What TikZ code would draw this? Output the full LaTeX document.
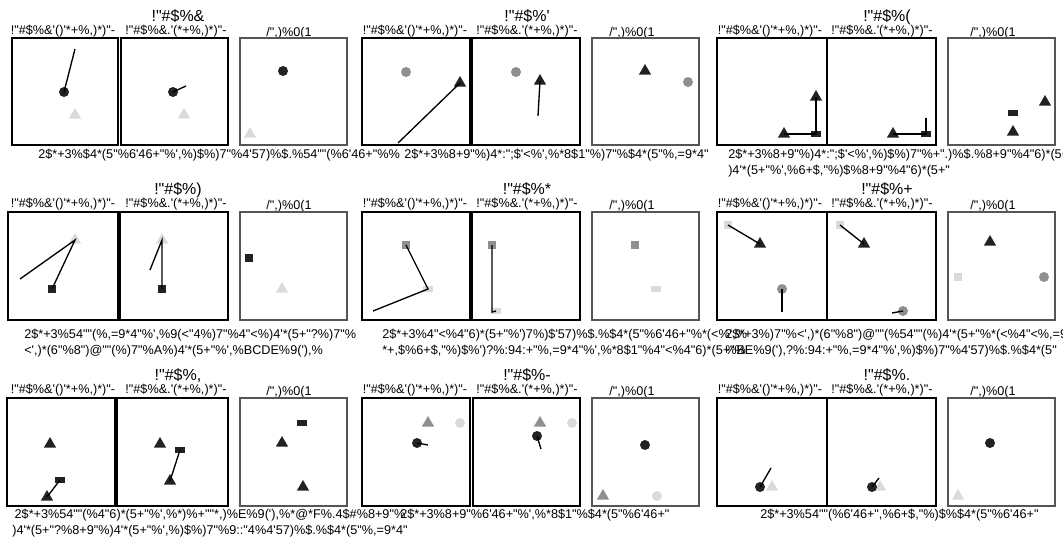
\documentclass[tikz,border=0pt]{standalone}
\usepackage{fontspec}
\newfontfamily\figfont{Liberation Sans}
\usetikzlibrary{shapes.geometric}

\definecolor{markdark}{HTML}{222222}
\definecolor{markmid}{HTML}{8F8F8F}
\definecolor{marklight}{HTML}{DADADA}
\definecolor{framegray}{HTML}{555555}

\newcommand{\subA}{!"\#\$\%\&'()'*+\%,)*)"-}
\newcommand{\subB}{!"\#\$\%\&.'(*+\%,)*)"-}
\newcommand{\subC}{/",)\%0(1}

\begin{document}
\begin{tikzpicture}[x=0.75pt, y=-0.75pt,
  title/.style={font=\figfont\fontsize{12}{14}\selectfont, anchor=base, inner sep=0pt},
  sub/.style={font=\figfont\fontsize{9.5}{11}\selectfont, anchor=base, inner sep=0pt},
  caption/.style={font=\figfont\fontsize{9.5}{12}\selectfont, anchor=base west, inner sep=0pt, align=left},
  frame/.style={draw=black, line width=0.8pt},
  frameC/.style={draw=framegray, line width=0.8pt},
  dot/.style={circle, inner sep=0pt, minimum size=7.5pt},
  tri/.style={regular polygon, regular polygon sides=3, inner sep=0pt, minimum size=10.5pt},
  sq/.style={rectangle, inner sep=0pt, minimum size=6.5pt},
  bar/.style={rectangle, inner sep=0pt, minimum width=7.5pt, minimum height=3.8pt},
  link/.style={line width=1pt, black}
]
  \useasboundingbox (0,0) rectangle (1063,543);

  % ---------------- row 1 ----------------
  \node[title] (t11) at (178,21) {!"\#\$\%\&};
  \node[title] (t12) at (527,21) {!"\#\$\%'};
  \node[title] (t13) at (887,21) {!"\#\$\%(};

  \node[sub] (s11a) at (63,34) {\subA};
  \node[sub] (s11b) at (176,34) {\subB};
  \node[sub] (s11c) at (289,36) {\subC};
  \node[sub] (s12a) at (415,34) {\subA};
  \node[sub] (s12b) at (527,34) {\subB};
  \node[sub] (s12c) at (632,36) {\subC};
  \node[sub] (s13a) at (770,34) {\subA};
  \node[sub] (s13b) at (882,34) {\subB};
  \node[sub] (s13c) at (993,36) {\subC};

  \draw[frame] (12,38) rectangle (118,145);
  \draw[frame] (121,38) rectangle (228,145);
  \draw[frameC] (240,38) rectangle (347,145);
  \draw[frame] (362,38) rectangle (470,145);
  \draw[frame] (472,38) rectangle (580,145);
  \draw[frameC] (592,38) rectangle (699,145);
  \draw[frame] (717,38) rectangle (827,145);
  \draw[frame] (827,38) rectangle (936,145);
  \draw[frameC] (948,38) rectangle (1055,145);

  \node[dot, fill=markdark] (a1) at (64,92) {};
  \coordinate (a1e) at (75,49);
  \node[tri, fill=marklight] (a2) at (75,115) {};
  \draw[link] (a1.center) -- (a1e);
  \node[dot, fill=markdark] (b1) at (173,92) {};
  \coordinate (b1e) at (186,86);
  \node[tri, fill=marklight] (b2) at (184,115) {};
  \draw[link] (b1.center) -- (b1e);
  \node[dot, fill=markdark] (c1) at (283,71) {};
  \node[tri, fill=marklight] (c2) at (250,134) {};

  \node[dot, fill=markmid] (d1) at (406,72) {};
  \node[tri, fill=markdark] (d2) at (460,83) {};
  \coordinate (d2e) at (398,143);
  \draw[link] (d2.center) -- (d2e);
  \node[dot, fill=markmid] (e1) at (516,72) {};
  \node[tri, fill=markdark] (e2) at (540,81) {};
  \coordinate (e2e) at (538,116);
  \draw[link] (e2.center) -- (e2e);
  \node[tri, fill=markdark] (f1) at (645,71) {};
  \node[dot, fill=markmid] (f2) at (688,82) {};

  \node[tri, fill=markdark] (g1) at (784,134) {};
  \node[bar, fill=markdark] (g2) at (816,134) {};
  \node[tri, fill=markdark] (g3) at (816,97) {};
  \draw[link] (g1.center) -- (g2.center) -- (g3.center);
  \node[tri, fill=markdark] (h1) at (893,134) {};
  \node[bar, fill=markdark] (h2) at (926,134) {};
  \coordinate (h2e) at (926,118);
  \draw[link] (h1.center) -- (h2.center) -- (h2e);
  \node[bar, fill=markdark] (i1) at (1013,113) {};
  \node[tri, fill=markdark] (i2) at (1013,132) {};
  \node[tri, fill=markdark] (i3) at (1045,102) {};

  \node[caption] (k11) at (38,158)
    {2\$*+3\%\$4*(5"\%6'46+"\%',\%)\$\%)7"\%4'57)\%\$.\%54""(\%6'46+"\%\%};
  \node[caption] (k12) at (404,158)
    {2\$*+3\%8+9"\%)4*:";\$'<\%',\%*8\$1"\%)7"\%\$4*(5"\%,=9*4"};
  \node[caption] (k13) at (728,174)
    {2\$*+3\%8+9"\%)4*:";\$'<\%',\%)\$\%)7"\%+".)\%\$.\%8+9"\%4"6)*(5+\\
     )4'*(5+"\%',\%6+\$,"\%)\$\%8+9"\%4"6)*(5+"};

  % ---------------- row 2 ----------------
  \node[title] (t21) at (178,194) {!"\#\$\%)};
  \node[title] (t22) at (527,194) {!"\#\$\%*};
  \node[title] (t23) at (887,194) {!"\#\$\%+};

  \node[sub] (s21a) at (63,207) {\subA};
  \node[sub] (s21b) at (176,207) {\subB};
  \node[sub] (s21c) at (289,209) {\subC};
  \node[sub] (s22a) at (415,207) {\subA};
  \node[sub] (s22b) at (527,207) {\subB};
  \node[sub] (s22c) at (632,209) {\subC};
  \node[sub] (s23a) at (770,207) {\subA};
  \node[sub] (s23b) at (882,207) {\subB};
  \node[sub] (s23c) at (993,209) {\subC};

  \draw[frame] (8,212) rectangle (118,320);
  \draw[frame] (120,212) rectangle (228,320);
  \draw[frameC] (240,212) rectangle (347,320);
  \draw[frame] (362,212) rectangle (470,320);
  \draw[frame] (472,212) rectangle (580,320);
  \draw[frameC] (592,212) rectangle (699,320);
  \draw[frame] (717,212) rectangle (827,320);
  \draw[frame] (827,212) rectangle (936,320);
  \draw[frameC] (948,212) rectangle (1055,320);

  \node[tri, fill=marklight] (m1) at (75,240) {};
  \node[sq, fill=markdark] (m2) at (52,289) {};
  \coordinate (m1e) at (20,279);
  \draw[link] (m2.center) -- (m1.center) -- (m1e);
  \node[tri, fill=marklight] (n1) at (162,240) {};
  \node[sq, fill=markdark] (n2) at (162,289) {};
  \coordinate (n1e) at (150,270);
  \draw[link] (n2.center) -- (n1.center) -- (n1e);
  \node[sq, fill=markdark] (o1) at (249,258) {};
  \node[tri, fill=marklight] (o2) at (282,289) {};

  \node[sq, fill=markmid] (p1) at (406,245) {};
  \node[bar, fill=marklight] (p2) at (428,289) {};
  \coordinate (p2e) at (373,311);
  \draw[link] (p1.center) -- (p2.center) -- (p2e);
  \node[sq, fill=markmid] (q1) at (492,245) {};
  \node[bar, fill=marklight] (q2) at (496,311) {};
  \coordinate (q1e) at (492,312);
  \draw[link] (q1.center) -- (q1e) -- (q2.center);
  \node[sq, fill=markmid] (r1) at (635,245) {};
  \node[bar, fill=marklight] (r2) at (656,289) {};

  \node[sq, fill=marklight] (u1) at (728,225) {};
  \node[tri, fill=markdark] (u2) at (760,244) {};
  \node[dot, fill=markmid] (u3) at (782,289) {};
  \coordinate (u3e) at (782,312);
  \draw[link] (u1.center) -- (u2.center);
  \draw[link] (u3.center) -- (u3e);
  \node[sq, fill=marklight] (v1) at (840,225) {};
  \node[tri, fill=markdark] (v2) at (864,244) {};
  \node[dot, fill=markmid] (v3) at (903,311) {};
  \coordinate (v3e) at (892,313);
  \draw[link] (v1.center) -- (v2.center);
  \draw[link] (v3.center) -- (v3e);
  \node[tri, fill=markdark] (w1) at (990,242) {};
  \node[sq, fill=marklight] (w2) at (958,277) {};
  \node[dot, fill=markmid] (w3) at (1044,277) {};

  \node[caption] (k21) at (24,354)
    {2\$*+3\%54""(\%,=9*4"\%',\%9(<"4\%)7"\%4"<\%)4'*(5+"?\%)7"\%\\
     <',)*(6"\%8")@""(\%)7"\%A\%)4'*(5+"\%',\%BCDE\%9('),\%};
  \node[caption] (k22) at (382,354)
    {2\$*+3\%4"<\%4"6)*(5+"\%')7\%)\$'57)\%\$.\%\$4*(5"\%6'46+"\%*(<\%',\%\\
     *+,\$\%6+\$,"\%)\$\%')?\%:94:+"\%,=9*4"\%',\%*8\$1"\%4"<\%4"6)*(5+"\%};
  \node[caption] (k23) at (725,354)
    {2\$*+3\%)7"\%<',)*(6"\%8")@""(\%54""(\%)4'*(5+"\%*(<\%4"<\%,=9\\
     \%BE\%9('),?\%:94:+"\%,=9*4"\%',\%)\$\%)7"\%4'57)\%\$.\%\$4*(5"};

  % ---------------- row 3 ----------------
  \node[title] (t31) at (178,380) {!"\#\$\%,};
  \node[title] (t32) at (527,380) {!"\#\$\%-};
  \node[title] (t33) at (887,380) {!"\#\$\%.};

  \node[sub] (s31a) at (63,393) {\subA};
  \node[sub] (s31b) at (176,393) {\subB};
  \node[sub] (s31c) at (289,395) {\subC};
  \node[sub] (s32a) at (415,393) {\subA};
  \node[sub] (s32b) at (527,393) {\subB};
  \node[sub] (s32c) at (632,395) {\subC};
  \node[sub] (s33a) at (770,393) {\subA};
  \node[sub] (s33b) at (882,393) {\subB};
  \node[sub] (s33c) at (993,395) {\subC};

  \draw[frame] (7,398) rectangle (115,506);
  \draw[frame] (117,398) rectangle (228,506);
  \draw[frameC] (240,398) rectangle (347,506);
  \draw[frame] (362,398) rectangle (470,506);
  \draw[frame] (473,398) rectangle (580,506);
  \draw[frameC] (592,398) rectangle (699,506);
  \draw[frame] (717,398) rectangle (827,506);
  \draw[frame] (827,398) rectangle (936,506);
  \draw[frameC] (948,398) rectangle (1055,506);

  \node[tri, fill=markdark] (x1) at (50,444) {};
  \node[tri, fill=markdark] (x2) at (47,497) {};
  \node[bar, fill=markdark] (x3) at (60,480) {};
  \draw[link] (x3.center) -- (x2.center);
  \node[tri, fill=markdark] (y1) at (160,444) {};
  \node[bar, fill=markdark] (y2) at (180,450) {};
  \node[tri, fill=markdark] (y3) at (170,481) {};
  \draw[link] (y2.center) -- (y3.center);
  \node[bar, fill=markdark] (z1) at (302,423) {};
  \node[tri, fill=markdark] (z2) at (282,443) {};
  \node[tri, fill=markdark] (z3) at (303,487) {};

  \node[tri, fill=markmid] (aa1) at (428,423) {};
  \node[dot, fill=marklight] (aa2) at (460,423) {};
  \node[dot, fill=markdark] (aa3) at (417,443) {};
  \coordinate (aa3e) at (428,445);
  \draw[link] (aa3.center) -- (aa3e);
  \node[tri, fill=markmid] (bb1) at (540,423) {};
  \node[dot, fill=marklight] (bb2) at (572,423) {};
  \node[dot, fill=markdark] (bb3) at (537,436) {};
  \coordinate (bb3e) at (541,449);
  \draw[link] (bb3.center) -- (bb3e);
  \node[dot, fill=markdark] (cc1) at (645,445) {};
  \node[tri, fill=markmid] (cc2) at (603,496) {};
  \node[dot, fill=marklight] (cc3) at (657,496) {};

  \node[tri, fill=marklight] (dd1) at (772,487) {};
  \node[dot, fill=markdark] (dd2) at (760,487) {};
  \coordinate (dd2e) at (771,468);
  \draw[link] (dd2.center) -- (dd2e);
  \node[tri, fill=marklight] (ee1) at (880,487) {};
  \node[dot, fill=markdark] (ee2) at (872,487) {};
  \coordinate (ee2e) at (879,478);
  \draw[link] (ee2.center) -- (ee2e);
  \node[dot, fill=markdark] (ff1) at (990,443) {};
  \node[tri, fill=marklight] (ff2) at (958,496) {};

  \node[caption, align=center, anchor=base] (k31) at (210,534)
    {2\$*+3\%54""(\%4"6)*(5+"\%',\%*)\%+""*,)\%E\%9('),\%*@*F\%.4\$\#\%8+9"\%\\
     )4'*(5+"?\%8+9"\%)4'*(5+"\%',\%)\$\%)7"\%9::"4\%4'57)\%\$.\%\$4*(5"\%,=9*4"};
  \node[caption] (k32) at (400,518)
    {2\$*+3\%8+9"\%6'46+"\%',\%*8\$1"\%\$4*(5"\%6'46+"};
  \node[caption] (k33) at (760,518)
    {2\$*+3\%54""(\%6'46+",\%6+\$,"\%)\$\%\$4*(5"\%6'46+"};
\end{tikzpicture}
\end{document}
